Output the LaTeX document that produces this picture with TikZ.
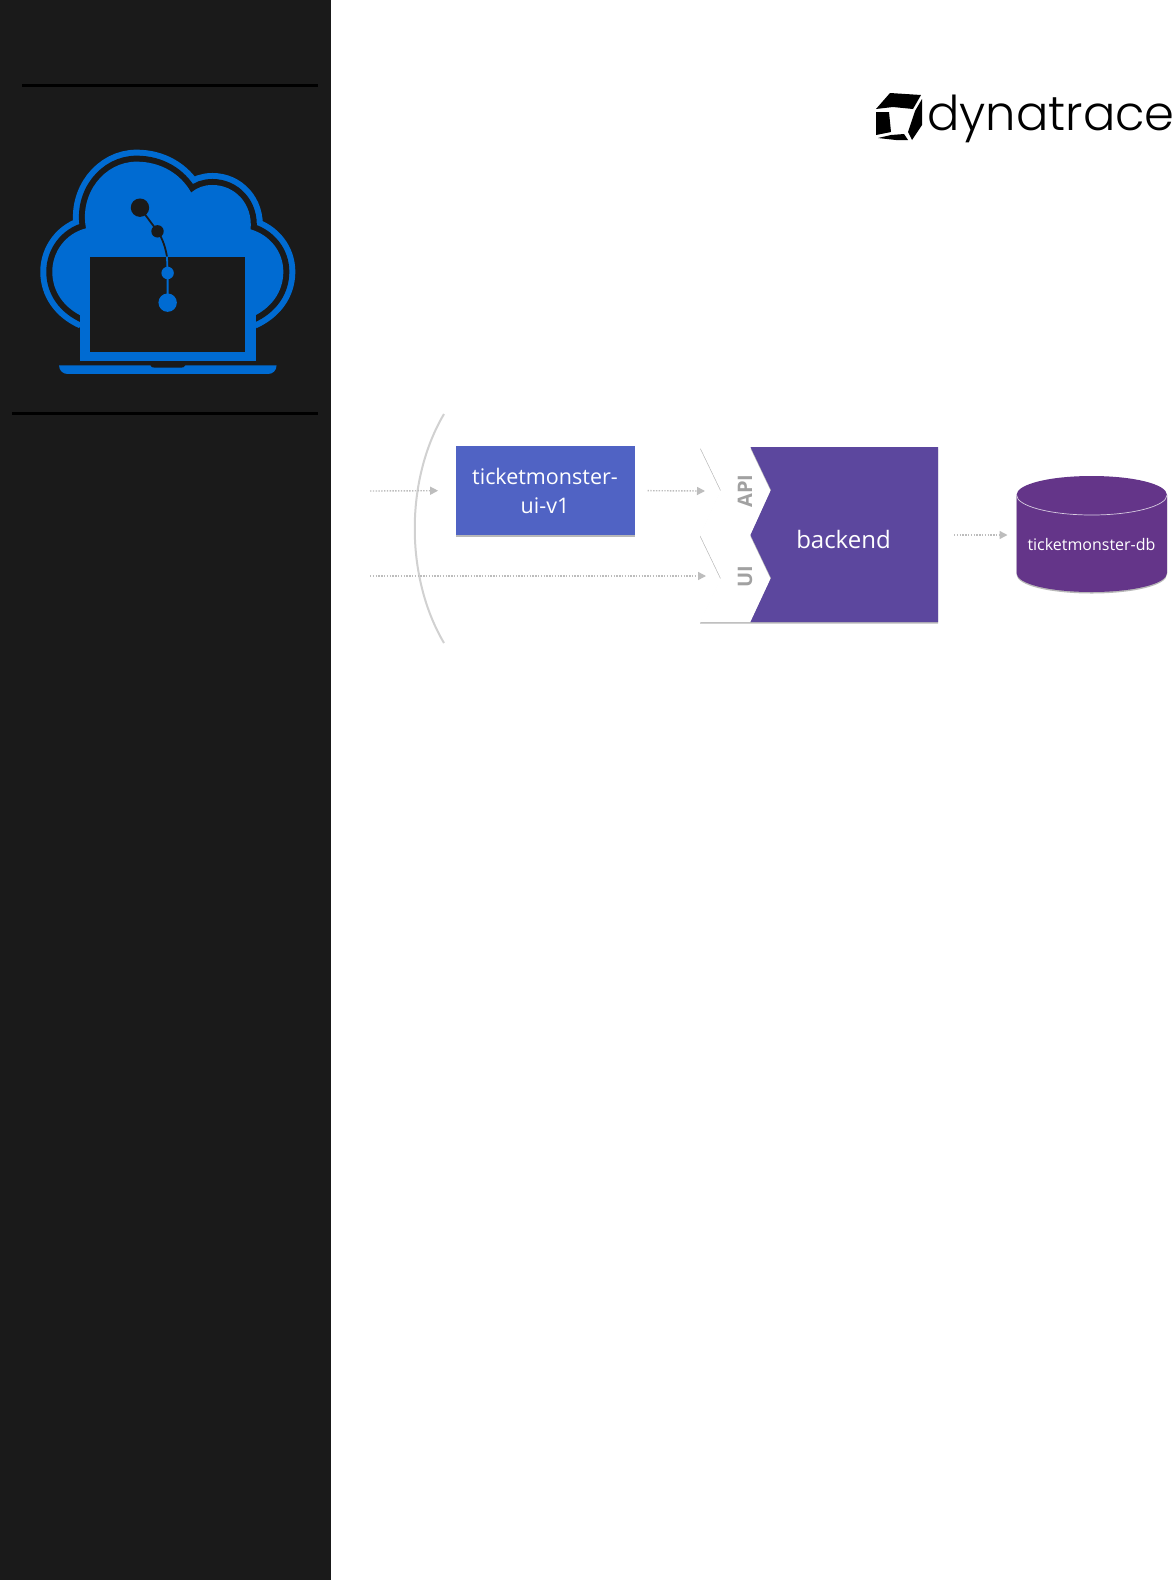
\documentclass[tikz,border=0pt]{standalone}
\usepackage{fontspec}
\usetikzlibrary{arrows.meta,shadows}
\setmainfont{Open Sans}
\newfontfamily\logofont{Poppins Light}
\definecolor{side}{HTML}{1A1A1A}
\definecolor{cloudblue}{HTML}{006BD2}
\definecolor{uiblue}{HTML}{5063C4}
\definecolor{bepurple}{HTML}{5C479E}
\definecolor{dbpurple}{HTML}{643589}
\definecolor{flowgray}{HTML}{BDBDBD}
\tikzset{
  rulebar/.style={line width=3pt,black},
  flow/.style={draw=flowgray,line width=1.4pt,dash pattern=on 1.4pt off 1.4pt,-{Triangle[length=8pt,width=8pt,fill=flowgray,sep=0pt]}},
  softshadow/.style={drop shadow={shadow xshift=0pt,shadow yshift=-1.5pt,opacity=.28,fill=black}},
  chev/.style={fill=white,softshadow},
  lbl/.style={text=white,align=center,inner sep=0pt},
  vlbl/.style={text=flowgray!85!black,font=\bfseries\fontsize{20}{20}\selectfont,rotate=90,inner sep=0pt},
}
\newcommand{\cloudpath}{(250,742) .. controls (190,715) and (155,665) .. (155,605) .. controls (155,545) and (195,490) .. (255,475) .. controls (235,370) and (310,275) .. (405,275) .. controls (475,275) and (535,310) .. (567,368) .. controls (585,352) and (605,345) .. (630,345) .. controls (695,345) and (750,400) .. (743,478) .. controls (800,495) and (840,545) .. (840,605) .. controls (840,665) and (805,715) .. (745,742)}
\begin{document}
\begin{tikzpicture}[x=1pt,y=-1pt]
\useasboundingbox (0,0) rectangle (1171,1580);
\fill[white] (0,0) rectangle (1171,1580);
\fill[side] (0,0) rectangle (331,1580);
\coordinate (r1a) at (22,85.3); \coordinate (r1b) at (318,85.3);
\coordinate (r2a) at (12,413.3); \coordinate (r2b) at (318,413.3);
\draw[rulebar] (r1a) -- (r1b);
\draw[rulebar] (r2a) -- (r2b);
% cloud icon
\begin{scope}[shift={(0,70)},x=0.3373pt,y=-0.3333pt]
\draw[cloudblue,line width=24pt] \cloudpath;
\draw[side,line width=12pt] \cloudpath;
\fill[cloudblue] \cloudpath -- cycle;
\fill[cloudblue] (237,735) rectangle (758,872);
\fill[side] (268,560) rectangle (727,847);
\fill[cloudblue] (175,886) -- (445,886) .. controls (448,892) and (452,893) .. (458,893) -- (537,893) .. controls (543,893) and (547,892) .. (550,886) -- (820,886) .. controls (820,902) and (808,912) .. (795,912) -- (200,912) .. controls (187,912) and (175,902) .. (175,886) -- cycle;
\draw[side,line width=1.8pt] (415,413) -- (467,484) .. controls (483,507) and (491,535) .. (495,560);
\draw[cloudblue,line width=1.8pt] (495,560) -- (497,609) -- (497,698);
\fill[side] (415,413) circle (9.2pt);
\fill[side] (467,484) circle (6.2pt);
\fill[cloudblue] (497,609) circle (6.2pt);
\fill[cloudblue] (497,698) circle (9.2pt);
\end{scope}
% logo
\begin{scope}[shift={(870,85)},x=0.3333pt,y=0.3333pt,yscale=-1]
\end{scope}
\fill[black] (876,109) -- (890,93) -- (921,95) -- (913,109) -- (893,107) -- cycle;
\fill[black] (876,112) -- (889,112) -- (891,132) -- (876,135) -- cycle;
\fill[black] (878,138) -- (891,135) -- (904,134) -- (908,140) -- (896,140) -- cycle;
\fill[black] (915,111) -- (922,99) -- (922,125) -- (912,140) -- (908,132) -- cycle;
\node[inner sep=0pt,anchor=base west] (logo) at (927,130.5) {\logofont\fontsize{48}{48}\selectfont dynatrace};
% arc
\coordinate (a1) at (444,414); \coordinate (a3) at (444,643);
\draw[black!18,line width=2pt] (a1) .. controls (405,480) and (405,577) .. (a3);
% chevrons
\path[chev] (700,447) -- (750.5,447) -- (771,490) -- (750.5,535) -- (700,535) -- (720.7,490) -- cycle;
\path[chev] (700,535) -- (750.5,535) -- (771,578) -- (750.5,622) -- (700,622) -- (720.7,578) -- cycle;
\node[vlbl] (api) at (745,491) {API};
\node[vlbl] (uilbl) at (745,577) {UI};
% backend
\path[fill=bepurple,softshadow] (750.5,447) -- (938,447) -- (938,622) -- (750.5,622) -- (771,578) -- (750.5,535) -- (771,490) -- cycle;
\node[lbl,font=\fontsize{24}{24}\selectfont] (backend) at (843.5,539) {backend};
\coordinate (beR) at (938,535);
% ui box
\node[fill=uiblue,softshadow,minimum width=179pt,minimum height=89pt,inner sep=0pt] (ui) at (545.8,490.6) {};
\node[lbl,font=\fontsize{21.5}{29}\selectfont] (uitxt) at (545,490.6) {ticketmonster-\\ui-v1};
% database
\path[fill=dbpurple,softshadow] (1016.5,495) .. controls (1016.5,484) and (1050,476) .. (1091.7,476) .. controls (1133,476) and (1167,484) .. (1167,495) -- (1167,573) .. controls (1167,584) and (1133,592) .. (1091.7,592) .. controls (1050,592) and (1016.5,584) .. (1016.5,573) -- cycle;
\draw[white!75!dbpurple,line width=.7pt] (1016.5,495) .. controls (1016.5,506) and (1050,515) .. (1091.7,515) .. controls (1133,515) and (1167,506) .. (1167,495);
\node[lbl,font=\fontsize{16}{16}\selectfont] (db) at (1091.5,544) {ticketmonster-db};
\coordinate (dbL) at (1016.5,535);
% flows
\coordinate (in1) at (370,491); \coordinate (in2) at (370,576);
\coordinate (apiIn) at (705,491); \coordinate (uiIn) at (706,576);
\draw[flow,shorten >=18pt] (in1) -- (ui.west);
\draw[flow,shorten <=12pt] (ui.east) -- (apiIn);
\draw[flow] (in2) -- (uiIn);
\draw[flow,shorten <=16pt,shorten >=9pt] (beR) -- (dbL);
\end{tikzpicture}
\end{document}
